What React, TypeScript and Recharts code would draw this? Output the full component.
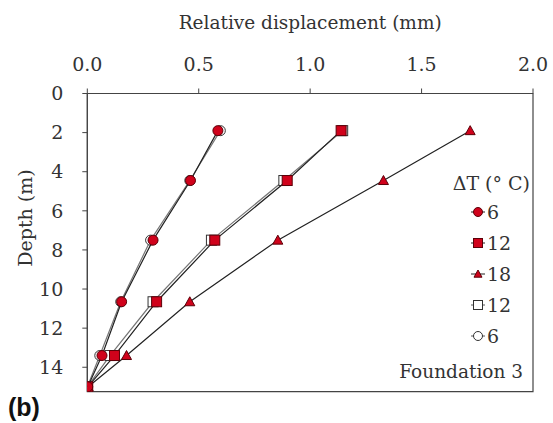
import { ReferenceArea, Scatter, ScatterChart, XAxis, YAxis } from "recharts";

// depth of each gauge along the pile (m)
const depths = [1.9, 4.45, 7.5, 10.65, 13.4, 15];

// relative displacement (mm) at each depth
const heat6 = [0.586, 0.463, 0.295, 0.154, 0.066, 0.002];
const heat12 = [1.139, 0.897, 0.572, 0.311, 0.122, 0.002];
const heat18 = [1.718, 1.329, 0.855, 0.46, 0.176, 0.004];
const cool12 = [1.146, 0.882, 0.557, 0.295, 0.102, 0];
const cool6 = [0.597, 0.46, 0.284, 0.15, 0.056, 0];

const legendLabels = ["6", "12", "18", "12", "6"];

const xTicks = [0, 0.5, 1, 1.5, 2];
const xMinorTicks = Array.from({ length: 41 }, (_, i) => i / 20);
const yTicks = [0, 2, 4, 6, 8, 10, 12, 14];
const yMinorTicks = Array.from({ length: 31 }, (_, i) => i / 2);

const SERIF = '"DejaVu Serif", "Liberation Serif", serif';
const RED = "#d0021b";
const RED_EDGE = "#5c0008";
const INK = "#333";

type Marker = "circle" | "square" | "triangle";

const toPoints = (values: number[]) => values.map((disp, i) => ({ disp, depth: depths[i] }));

function Glyph({ kind, cx, cy, size, filled }: { kind: Marker; cx: number; cy: number; size: number; filled: boolean }) {
  const fill = filled ? RED : "#fff";
  const stroke = filled ? RED_EDGE : INK;
  const h = size / 2;
  if (kind === "circle") return <circle cx={cx} cy={cy} r={h} fill={fill} stroke={stroke} strokeWidth={1} />;
  if (kind === "square")
    return <rect x={cx - h} y={cy - h} width={size} height={size} fill={fill} stroke={stroke} strokeWidth={1} />;
  return (
    <polygon
      points={`${cx},${cy - h} ${cx + h},${cy + h * 0.8} ${cx - h},${cy + h * 0.8}`}
      fill={fill}
      stroke={stroke}
      strokeWidth={1}
    />
  );
}

// open (cooling) series first so the heating markers sit on top
const series = [
  { key: "cool12", data: toPoints(cool12), kind: "square" as Marker, filled: false, line: "#777" },
  { key: "cool6", data: toPoints(cool6), kind: "circle" as Marker, filled: false, line: "#777" },
  { key: "heat18", data: toPoints(heat18), kind: "triangle" as Marker, filled: true, line: "#222" },
  { key: "heat12", data: toPoints(heat12), kind: "square" as Marker, filled: true, line: "#222" },
  { key: "heat6", data: toPoints(heat6), kind: "circle" as Marker, filled: true, line: "#222" },
];

const legendItems: { kind: Marker; filled: boolean }[] = [
  { kind: "circle", filled: true },
  { kind: "square", filled: true },
  { kind: "triangle", filled: true },
  { kind: "square", filled: false },
  { kind: "circle", filled: false },
];

function LegendBox() {
  return (
    <div style={{ position: "absolute", left: 440, top: 170, width: 90, fontFamily: SERIF, fontSize: 19, color: INK }}>
      <div style={{ textAlign: "right", lineHeight: "26px", whiteSpace: "nowrap" }}>ΔT (° C)</div>
      {legendItems.map((item, i) => (
        <div key={i} style={{ display: "flex", alignItems: "center", height: 31, paddingLeft: 29 }}>
          <svg width={18} height={14} style={{ display: "block" }}>
            <line x1={2} x2={16} y1={7} y2={7} stroke={item.filled ? "#222" : "#555"} />
            <Glyph kind={item.kind} cx={9} cy={7} size={item.kind === "triangle" ? 8 : 9} filled={item.filled} />
          </svg>
          <span style={{ lineHeight: "26px" }}>{legendLabels[i]}</span>
        </div>
      ))}
    </div>
  );
}

export default function App() {
  return (
    <div style={{ position: "absolute", left: 0, top: 0, width: 553, height: 423, background: "#fff" }}>
      <ScatterChart width={553} height={423} margin={{ top: 53.5, right: 20, bottom: 31.3, left: 27.3 }}>
        <XAxis
          xAxisId="x"
          orientation="top"
          type="number"
          dataKey="disp"
          domain={[0, 2]}
          ticks={xTicks}
          tickFormatter={(v: number) => v.toFixed(1)}
          height={40}
          tickSize={5}
          tickMargin={18}
          stroke="#444"
          tick={{ fill: INK, fontFamily: SERIF, fontSize: 19 }}
          allowDataOverflow
          label={{ value: "Relative displacement (mm)", position: "top", offset: 25, fill: INK, fontFamily: SERIF, fontSize: 18.5 }}
        />
        <XAxis
          xAxisId="xMinor"
          orientation="top"
          mirror
          type="number"
          domain={[0, 2]}
          ticks={xMinorTicks}
          tick={false}
          tickSize={4}
          axisLine={false}
          stroke="#444"
          allowDataOverflow
        />
        <YAxis
          yAxisId="y"
          type="number"
          dataKey="depth"
          reversed
          domain={[0, 15.25]}
          ticks={yTicks}
          interval={0}
          width={60}
          tickSize={5}
          tickMargin={19}
          stroke="#444"
          tick={{ fill: INK, fontFamily: SERIF, fontSize: 19 }}
          allowDataOverflow
        />
        <YAxis
          yAxisId="yMinor"
          mirror
          type="number"
          reversed
          domain={[0, 15.25]}
          ticks={yMinorTicks}
          interval={0}
          tick={false}
          tickSize={4}
          axisLine={false}
          stroke="#444"
          allowDataOverflow
        />
        <ReferenceArea
          xAxisId="x"
          yAxisId="y"
          x1={0}
          x2={2}
          y1={0}
          y2={15.25}
          fill="none"
          stroke="#444"
          strokeWidth={1.2}
          ifOverflow="visible"
        />
        {series.map((s) => (
          <Scatter
            key={s.key}
            xAxisId="x"
            yAxisId="y"
            data={s.data}
            line={{ stroke: s.line, strokeWidth: 1.2 }}
            lineType="joint"
            isAnimationActive={false}
            shape={(p: any) => <Glyph kind={s.kind} cx={p.cx} cy={p.cy} size={10} filled={s.filled} />}
          />
        ))}
      </ScatterChart>
      <LegendBox />
      <div
        style={{
          position: "absolute",
          left: 25,
          top: 218,
          transform: "translate(-50%, -50%) rotate(-90deg)",
          fontFamily: SERIF,
          fontSize: 19,
          color: INK,
          whiteSpace: "nowrap",
        }}
      >
        Depth (m)
      </div>
      <div
        style={{
          position: "absolute",
          right: 30,
          top: 359,
          fontFamily: SERIF,
          fontSize: 18.5,
          lineHeight: "26px",
          color: INK,
        }}
      >
        Foundation 3
      </div>
      <div
        style={{
          position: "absolute",
          left: 8,
          top: 393,
          fontFamily: '"Liberation Sans", Arial, sans-serif',
          fontWeight: "bold",
          fontSize: 25,
          lineHeight: "28px",
          color: "#111",
        }}
      >
        (b)
      </div>
    </div>
  );
}
